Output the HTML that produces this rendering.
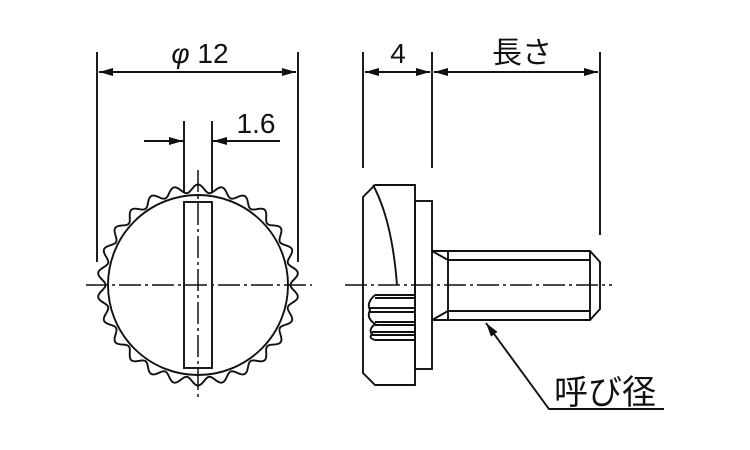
<!DOCTYPE html>
<html><head><meta charset="utf-8"><style>
html,body{margin:0;padding:0;background:#fff;width:750px;height:450px;overflow:hidden}
text{font-family:"Liberation Sans","Noto Sans CJK JP",sans-serif;fill:#111}
</style></head><body>
<svg id="s" width="750" height="450" viewBox="0 0 750 450" xmlns="http://www.w3.org/2000/svg">
<defs><marker id="a" viewBox="0 0 14 8" refX="14" refY="4" markerWidth="14" markerHeight="8" markerUnits="userSpaceOnUse" orient="auto-start-reverse"><path d="M0,0L14,4L0,8z" fill="#111"/></marker></defs>
<g stroke="#111" stroke-width="1.9" fill="none">
<line x1="97" y1="52" x2="97" y2="262"/><line x1="298" y1="52" x2="298" y2="262"/>
<line x1="99" y1="72" x2="296" y2="72" marker-start="url(#a)" marker-end="url(#a)"/>
<line x1="184" y1="121" x2="184" y2="192"/><line x1="212" y1="121" x2="212" y2="192"/>
<line x1="144" y1="141" x2="183" y2="141" marker-end="url(#a)"/>
<line x1="280" y1="141" x2="213" y2="141" marker-end="url(#a)"/>
<circle cx="198" cy="285" r="90"/>
<path id="k"/>
<rect x="184" y="202" width="28" height="166"/>
<line x1="86" y1="285" x2="312" y2="285" stroke-dasharray="22,4,3,4" stroke-width="1.5"/>
<line x1="198" y1="170" x2="198" y2="400" stroke-dasharray="22,4,3,4" stroke-width="1.5"/>
<line x1="363" y1="52" x2="363" y2="168"/><line x1="432" y1="52" x2="432" y2="168"/><line x1="600" y1="52" x2="600" y2="235"/>
<line x1="365" y1="72" x2="430" y2="72" marker-start="url(#a)" marker-end="url(#a)"/>
<line x1="434" y1="72" x2="598" y2="72" marker-start="url(#a)" marker-end="url(#a)"/>
<path d="M375,185L415,185L415,385L375,385L363,373L363,197Z"/>
<path d="M373,185Q392,220 397,285"/>
<rect x="415" y="201" width="17" height="168"/>
<path d="M375,295L415,295M375,298L415,298M370,308L415,308M370,312L415,312M375,322L415,322M375,325L415,325M372,332L415,332M372,335L415,335M375,340L415,340"/>
<path d="M375,295Q366,303 370,310Q366,318 375,324Q368,330 372,334Q368,338 375,340"/>
<path d="M432,251L590,251L600,262L600,309L590,320L432,320"/>
<line x1="448" y1="260" x2="590" y2="260"/><line x1="448" y1="311" x2="590" y2="311"/>
<line x1="432" y1="251" x2="448" y2="260"/><line x1="432" y1="320" x2="448" y2="311"/>
<line x1="448" y1="251" x2="448" y2="320"/><line x1="590" y1="251" x2="590" y2="320"/>
<line x1="345" y1="285" x2="612" y2="285" stroke-dasharray="22,4,3,4" stroke-width="1.5"/>
<path d="M664,409L549,409L486,323" marker-end="url(#a)"/>
</g>
<text x="200" y="63" font-size="28" text-anchor="middle"><tspan font-style="italic">φ</tspan> 12</text>
<text x="256" y="133" font-size="28" text-anchor="middle">1.6</text>
<text x="398" y="63" font-size="28" text-anchor="middle">4</text>
<text x="522" y="63" font-size="30" text-anchor="middle">長さ</text>
<text x="605" y="404" font-size="34" text-anchor="middle">呼び径</text>
</svg>
<script>
var p="",n=26,cx=198,cy=285;
for(var i=0;i<=1040;i++){var t=i/1040*2*Math.PI;var r=96.5+4*Math.cos(n*t);var x=cx+r*Math.sin(t),y=cy-r*Math.cos(t);p+=(i?"L":"M")+x.toFixed(2)+","+y.toFixed(2);}
document.getElementById("k").setAttribute("d",p+"Z");
</script>
</body></html>
